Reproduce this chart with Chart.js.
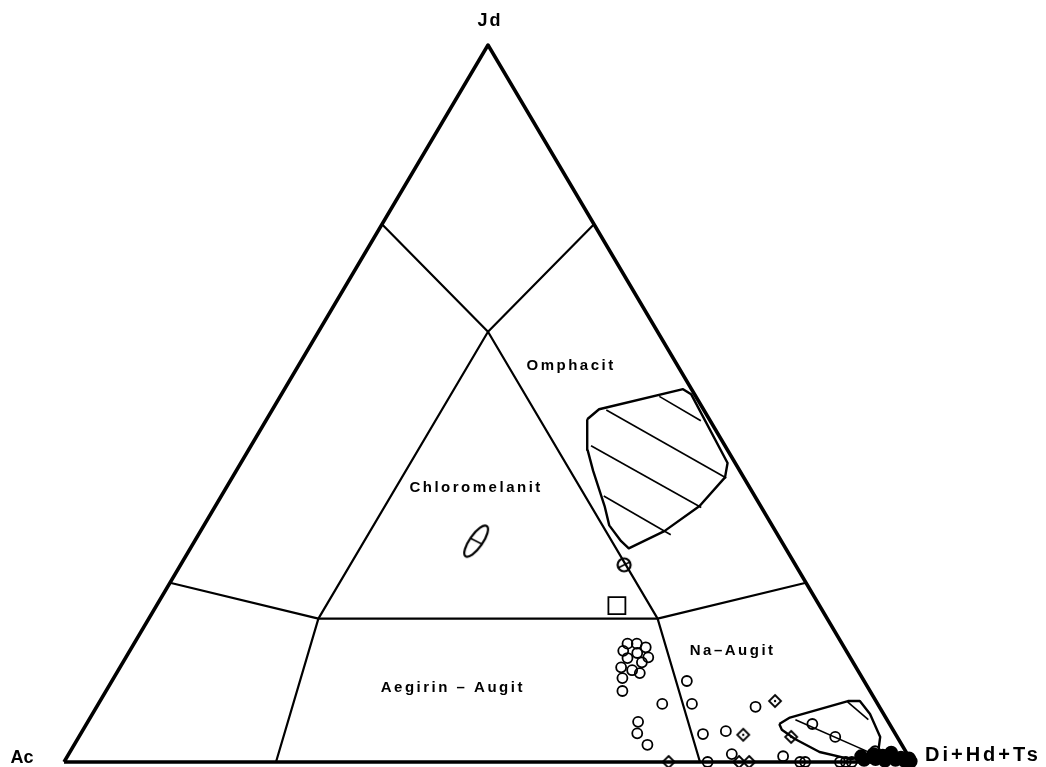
<!DOCTYPE html>
<html>
<head>
<meta charset="utf-8">
<script src="https://cdn.jsdelivr.net/npm/chart.js@4.4.0/dist/chart.umd.min.js"></script>
<style>
  html, body { margin: 0; padding: 0; background: #fff; overflow: hidden; }
  canvas { display: block; }
</style>
</head>
<body>
<canvas id="myChart" width="1046" height="767"></canvas>
<script>
// Compositions en % : Jd et Di (Ac = 100 - Jd - Di)

// Triangle
const edgeJd = [0, 100, 0, 0];
const edgeDi = [0, 0, 100, 0];
const cornerNames = ['Ac', 'Jd', 'Di+Hd+Ts'];
const cornerJd = [0, 100, 0];
const cornerDi = [0, 0, 100];

// Limites des champs
const upperJd = [75, 60, 75];
const upperDi = [0, 20, 25];
const lowerJd = [25, 20, 20, 25];
const lowerDi = [0, 20, 60, 75];
const leftJd = [60, 20, 0];
const leftDi = [20, 20, 25];
const rightJd = [60, 20, 0];
const rightDi = [20, 60, 75];

// Noms des champs
const fieldNames = ['Omphacit', 'Chloromelanit', 'Aegirin – Augit', 'Na–Augit'];
const fieldJd = [55.2, 38.2, 10.3, 15.5];
const fieldDi = [32.2, 29.5, 40.7, 71.1];

// Champ hachuré (omphacites)
const bigFieldJd = [47.8, 49.2, 52.0, 51.3, 41.7, 39.7, 35.7, 32.2, 29.8, 30.8, 33.0, 35.7, 40.6, 43.5, 46.2, 47.8];
const bigFieldDi = [37.8, 38.5, 47.0, 48.3, 57.4, 58.1, 57.1, 54.7, 51.7, 50.3, 47.8, 45.9, 42.1, 40.0, 38.6, 37.8];
const bigHatchJd = [[51.0, 47.6], [49.1, 39.6], [44.1, 35.5], [37.1, 31.7]];
const bigHatchDi = [[44.7, 51.3], [39.4, 58.3], [40.1, 57.4], [45.1, 55.7]];

// Petit champ hachuré
const smallFieldJd = [5.3, 6.2, 8.5, 8.5, 6.7, 3.5, 1.7, 0.7, 0.4, 1.4, 3.2, 4.5, 5.3];
const smallFieldDi = [81.7, 82.5, 88.2, 89.6, 91.7, 94.5, 95.2, 94.5, 92.5, 88.4, 84.6, 82.4, 81.7];
const smallHatchJd = [[5.9, 1.1], [8.4, 5.9]];
const smallHatchDi = [[83.3, 94.9], [88.2, 91.9]];

// Analyses : cercles
const circleJd = [16.5, 16.5, 16.0, 15.5, 15.2, 14.6, 14.5, 13.9, 13.2, 12.8, 12.4, 11.7, 9.9,
  11.3, 8.1, 8.1, 5.6, 4.0, 2.4, 3.9, 4.3, 7.7, 1.1, 0, 5.3, 3.5, 1.5, 0.8, 0, 0, 0, 0, 0];
const circleDi = [58.2, 59.3, 60.6, 58.2, 60.0, 61.6, 59.2, 61.2, 59.1, 60.6, 61.7, 60.0, 60.9,
  67.8, 66.5, 70.0, 64.9, 65.6, 67.6, 73.4, 75.9, 77.7, 78.2, 75.9, 85.6, 89.2, 94.9, 84.4, 86.8, 87.4, 91.5, 92.2, 92.9];

// Analyses : losanges
const diamondJd = [8.5, 3.8, 0, 0, 0, 3.5];
const diamondDi = [79.6, 78.2, 71.3, 79.6, 80.8, 84.0];

// Analyses groupées près de Di
const blobJd = [0.8, 0.3, 1.1, 0.4, 0.9, 0.2, 0.7, 0.3, 0.6, 0.2, 0.5, 0.1, 0.9, 1.3];
const blobDi = [93.6, 94.2, 94.9, 95.5, 96.1, 96.7, 97.3, 97.9, 98.4, 99.0, 99.4, 99.8, 95.2, 96.9];

// Symboles isolés
const squareJd = [21.8];
const squareDi = [54.3];
const slashJd = [27.5];
const slashDi = [52.3];
const ellipseJd = [30.8];
const ellipseDi = [33.2];

function tern(jd, di) {
    return { x: di + jd / 2, y: jd };
}

function line(jds, dis, width) {
    return {
        showLine: true,
        data: jds.map((j, i) => tern(j, dis[i])),
        borderColor: '#000',
        borderWidth: width,
        borderJoinStyle: 'round',
        pointRadius: 0,
        clip: false
    };
}

function points(jds, dis, style, radius, extra) {
    return Object.assign({
        data: jds.map((j, i) => tern(j, dis[i])),
        pointStyle: style,
        pointRadius: radius,
        pointBackgroundColor: 'rgba(0,0,0,0)',
        pointBorderColor: '#000',
        pointBorderWidth: 1.8,
        showLine: false,
        clip: false
    }, extra || {});
}

function makeCanvas(size, draw) {
    const c = document.createElement('canvas');
    c.width = size;
    c.height = size;
    const g = c.getContext('2d');
    g.strokeStyle = '#000';
    g.fillStyle = '#000';
    g.translate(size / 2, size / 2);
    draw(g);
    return c;
}

const diamondImg = makeCanvas(16, g => {
    g.lineWidth = 1.8;
    g.beginPath();
    g.moveTo(0, -6); g.lineTo(6, 0); g.lineTo(0, 6); g.lineTo(-6, 0); g.closePath();
    g.stroke();
    g.beginPath(); g.arc(0, 0, 1.2, 0, Math.PI * 2); g.fill();
});

const slashImg = makeCanvas(20, g => {
    g.lineWidth = 2.2;
    g.beginPath(); g.arc(0, 0, 6.5, 0, Math.PI * 2); g.stroke();
    g.lineWidth = 1.6;
    g.beginPath(); g.moveTo(-6, 3); g.lineTo(6, -3); g.stroke();
});

const ellipseImg = makeCanvas(44, g => {
    g.lineWidth = 2.2;
    g.rotate(-55 * Math.PI / 180);
    g.beginPath(); g.ellipse(0, 0, 18.5, 6.5, 0, 0, Math.PI * 2); g.stroke();
    g.lineWidth = 1.6;
    g.beginPath(); g.moveTo(-1, -6.5); g.lineTo(1, 6.5); g.stroke();
});

const datasets = [
    line(edgeJd, edgeDi, 3.5),
    line(upperJd, upperDi, 2.2),
    line(lowerJd, lowerDi, 2.2),
    line(leftJd, leftDi, 2.2),
    line(rightJd, rightDi, 2.2),
    line(bigFieldJd, bigFieldDi, 2.4),
    line(smallFieldJd, smallFieldDi, 2.4)
];
bigHatchJd.forEach((j, i) => datasets.push(line(j, bigHatchDi[i], 1.6)));
smallHatchJd.forEach((j, i) => datasets.push(line(j, smallHatchDi[i], 1.6)));
datasets.push(points(circleJd, circleDi, 'circle', 5));
datasets.push(points(blobJd, blobDi, 'circle', 6, { pointBackgroundColor: '#000' }));
datasets.push(points(diamondJd, diamondDi, diamondImg, 6));
datasets.push(points(squareJd, squareDi, 'rect', 12));
datasets.push(points(slashJd, slashDi, slashImg, 8));
datasets.push(points(ellipseJd, ellipseDi, ellipseImg, 20));

const labelPlugin = {
    id: 'labels',
    afterDatasetsDraw(chart) {
        const { ctx, scales: { x, y } } = chart;
        ctx.save();
        ctx.fillStyle = '#000';
        ctx.textBaseline = 'middle';
        ctx.textAlign = 'center';
        ctx.font = 'bold 15px "Liberation Sans", Arial, sans-serif';
        ctx.letterSpacing = '2.5px';
        fieldNames.forEach((name, i) => {
            const p = tern(fieldJd[i], fieldDi[i]);
            ctx.fillText(name, x.getPixelForValue(p.x), y.getPixelForValue(p.y));
        });
        // Sommets
        const fonts = ['bold 18px', 'bold 18px', 'bold 20px'];
        const spacing = ['0px', '2px', '3px'];
        const offsets = [[-42, -4, 'center'], [2, -24, 'center'], [13, -7, 'left']];
        cornerNames.forEach((name, i) => {
            const p = tern(cornerJd[i], cornerDi[i]);
            ctx.font = fonts[i] + ' "Liberation Sans", Arial, sans-serif';
            ctx.letterSpacing = spacing[i];
            ctx.textAlign = offsets[i][2];
            ctx.fillText(name, x.getPixelForValue(p.x) + offsets[i][0], y.getPixelForValue(p.y) + offsets[i][1]);
        });
        ctx.restore();
    }
};

const ctx = document.getElementById('myChart').getContext('2d');
new Chart(ctx, {
    type: 'scatter',
    data: { datasets: datasets },
    options: {
        responsive: false,
        animation: false,
        layout: { autoPadding: false, padding: { left: 64, right: 134, top: 45, bottom: 5 } },
        scales: {
            x: { type: 'linear', min: 0, max: 100, display: false },
            y: { type: 'linear', min: 0, max: 100, display: false }
        },
        plugins: {
            legend: { display: false },
            tooltip: { enabled: false }
        }
    },
    plugins: [labelPlugin]
});
</script>
</body>
</html>
